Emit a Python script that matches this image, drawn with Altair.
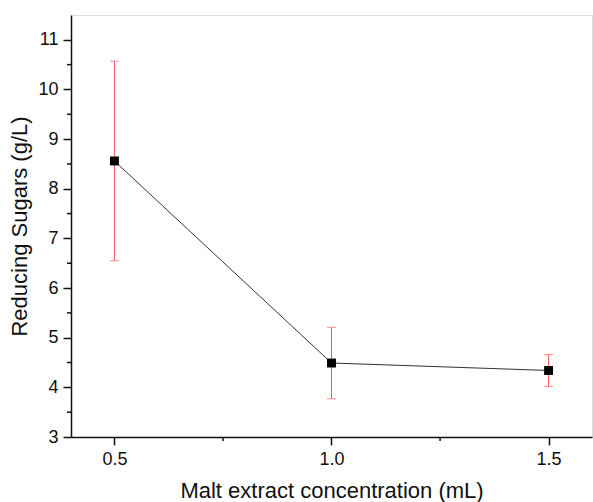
import altair as alt
import pandas as pd

# Reducing sugars measured at each malt extract volume, with standard deviations
malt_ml = [0.5, 1.0, 1.5]
sugars = [8.56, 4.49, 4.34]
sd = [2.01, 0.72, 0.32]

x_major = [0.5, 1.0, 1.5]
x_minor = [0.75, 1.25]
y_major = [3, 4, 5, 6, 7, 8, 9, 10, 11]
y_minor = [3.5, 4.5, 5.5, 6.5, 7.5, 8.5, 9.5, 10.5]

df = pd.DataFrame({"malt": malt_ml, "sugar": sugars, "sd": sd})
df["lo"] = df["sugar"] - df["sd"]
df["hi"] = df["sugar"] + df["sd"]

FONT = "Liberation Sans"
xscale = alt.Scale(domain=[0.4, 1.6], nice=False, zero=False)
yscale = alt.Scale(domain=[3, 11.5], nice=False, zero=False)

x_axis = alt.Axis(
    values=x_major, format=".1f", title="Malt extract concentration (mL)",
    grid=False, tickSize=8, tickWidth=1.5, domainWidth=1.5, domainColor="#111",
    tickColor="#111", labelFontSize=18, labelFont=FONT, labelColor="#111",
    labelPadding=5, titleFont=FONT, titleFontSize=22, titleFontWeight="normal",
    titleColor="#111", titlePadding=12,
)
y_axis = alt.Axis(
    values=y_major, format="d", title="Reducing Sugars (g/L)",
    grid=False, tickSize=8, tickWidth=1.5, domainWidth=1.5, domainColor="#111",
    tickColor="#111", labelFontSize=18, labelFont=FONT, labelColor="#111",
    labelPadding=5, titleFont=FONT, titleFontSize=22, titleFontWeight="normal",
    titleColor="#111", titlePadding=6,
)

base = alt.Chart(df)

line = base.mark_line(color="#333", strokeWidth=1).encode(
    x=alt.X("malt:Q", scale=xscale, axis=x_axis),
    y=alt.Y("sugar:Q", scale=yscale, axis=y_axis),
)

err = base.mark_rule(color="#ff5555", strokeWidth=1).encode(
    x="malt:Q", y="lo:Q", y2="hi:Q"
)
cap_hi = base.mark_tick(color="#ff5555", thickness=1, size=9, orient="horizontal").encode(
    x="malt:Q", y="hi:Q"
)
cap_lo = base.mark_tick(color="#ff5555", thickness=1, size=9, orient="horizontal").encode(
    x="malt:Q", y="lo:Q"
)

points = base.mark_square(color="black", size=80, opacity=1).encode(
    x="malt:Q", y="sugar:Q"
)

# Minor ticks drawn just outside the axis lines
xm = alt.Chart(pd.DataFrame({"v": x_minor})).mark_rule(color="#111", strokeWidth=1.5).encode(
    x="v:Q", y=alt.value(422), y2=alt.value(426)
)
ym = alt.Chart(pd.DataFrame({"v": y_minor})).mark_rule(color="#111", strokeWidth=1.5).encode(
    y="v:Q", x=alt.value(-4), x2=alt.value(0)
)

chart = (
    alt.layer(line, err, cap_hi, cap_lo, points, xm, ym)
    .properties(
        width=521, height=422,
        autosize=alt.AutoSizeParams(type="none"),
        padding={"left": 71, "top": 15, "right": 1, "bottom": 65},
    )
    .configure_view(stroke="#222", strokeWidth=1.5)
    .configure(background="white")
)

chart.save("out.html", embed_options={"renderer": "svg", "actions": False})
